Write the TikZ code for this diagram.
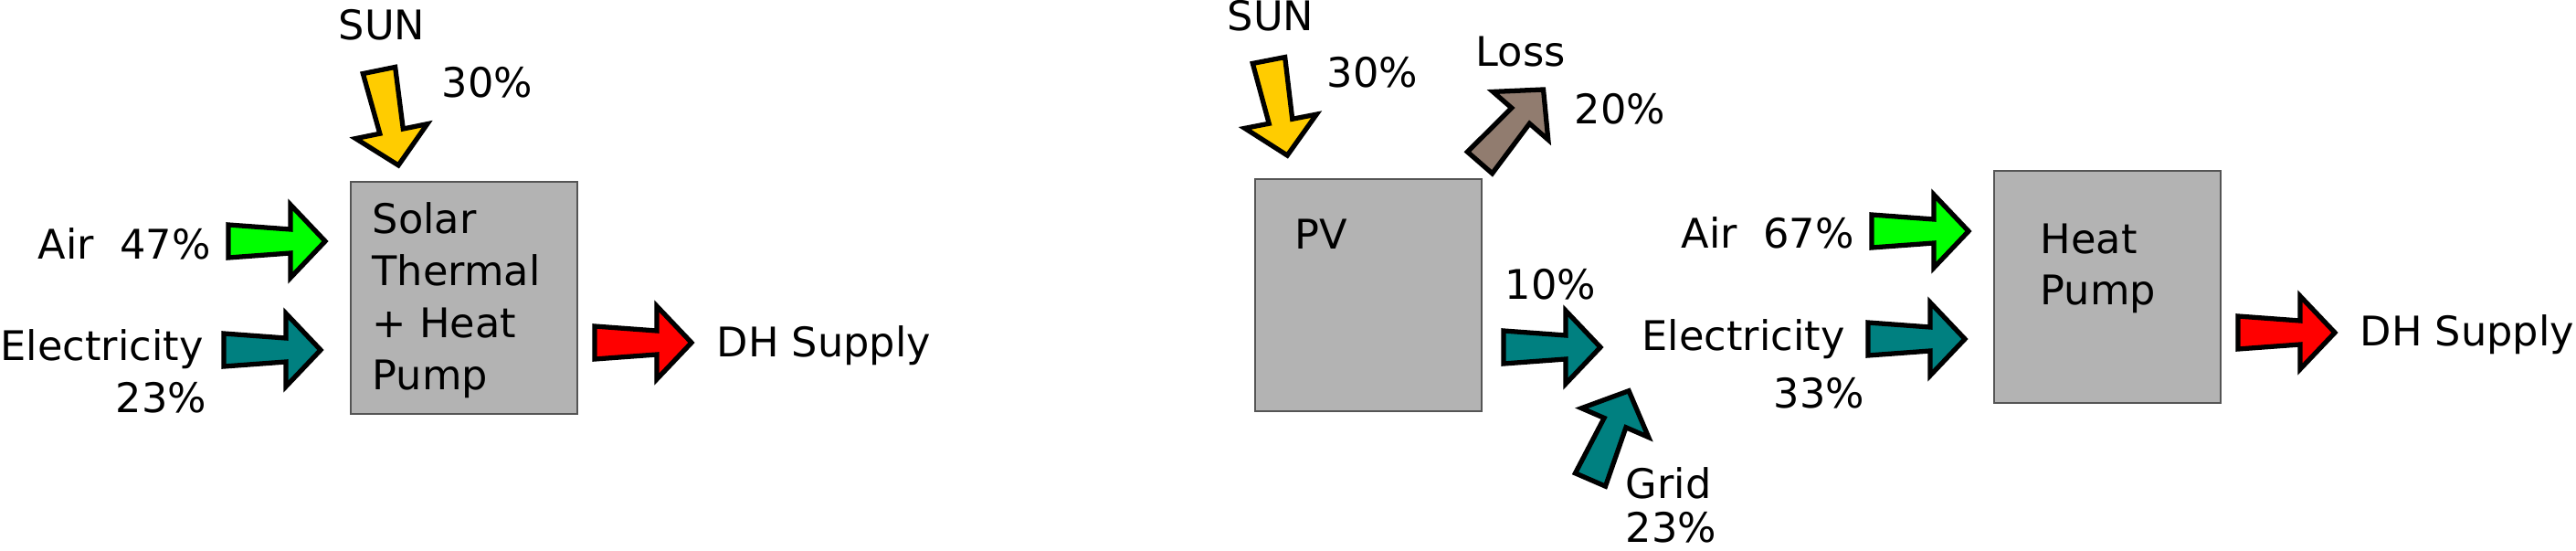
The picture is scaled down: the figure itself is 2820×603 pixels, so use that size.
\documentclass[tikz,border=0pt]{standalone}
\usepackage{fontspec}
\setmainfont{DejaVu Sans}
\usepackage{xcolor}
\usetikzlibrary{positioning}

\definecolor{sunyellow}{HTML}{FFCC00}
\definecolor{airgreen}{HTML}{00FF00}
\definecolor{elteal}{HTML}{008080}
\definecolor{dhred}{HTML}{FF0000}
\definecolor{lossbrown}{HTML}{917C6F}
\definecolor{boxgray}{HTML}{B3B3B3}
\definecolor{boxedge}{HTML}{555555}

\begin{document}
\begin{tikzpicture}
		[x=0.01cm,y=-0.01cm,
		every node/.style={font=\fontsize{12.7}{16}\selectfont,inner sep=0pt},
		txt/.style={anchor=base west},
		unit/.style={draw=boxedge,fill=boxgray,line width=0.6pt,minimum width=2.48cm,minimum height=2.53cm},
		fatarrow/.pic={\draw[pic actions,line width=1.5pt]
			(0,-18) -- (68,-13) -- (68,-40) -- (106,0) -- (68,40) -- (68,13) -- (0,18) -- cycle;}]
		\useasboundingbox (0,0) rectangle (2820,603);

		% solar thermal + heat pump
		\node[unit] (st) at (508,326) {};
		\foreach \t [count=\i] in {Solar,Thermal,+ Heat,Pump}
			\node[txt] (st\i) at (407,{198+57*\i}) {\t};
		\node[txt] (sun1) at (370,43) {SUN};
		\node[txt] (sunp1) at (483,106) {30\%};
		\node[txt] (air1) at (41,283) {Air\ \ 47\%};
		\node[txt] (el1) at (0,394) {Electricity};
		\node[txt] (elp1) at (126,451) {23\%};
		\node[txt] (dh1) at (784,390) {DH Supply};
		\pic[fill=sunyellow,rotate=-78.5] at (415,77) {fatarrow};
		\pic[fill=airgreen] at (250,264) {fatarrow};
		\pic[fill=elteal] at (245,383) {fatarrow};
		\pic[fill=dhred] at (651,375) {fatarrow};

		% PV + heat pump
		\node[unit] (pv) at (1498,323) {};
		\node[txt] (pvl) at (1417,272) {PV};
		\node[txt] (sun2) at (1343,34) {SUN};
		\node[txt] (sunp2) at (1452,95) {30\%};
		\node[txt] (loss) at (1615,73) {Loss};
		\node[txt] (lossp) at (1723,135) {20\%};
		\node[txt] (pvp) at (1647,327) {10\%};
		\node[txt] (el2) at (1797,383) {Electricity};
		\node[txt] (elp2) at (1941,446) {33\%};
		\node[txt] (air2) at (1840,271) {Air\ \ 67\%};
		\node[txt] (grid) at (1779,545) {Grid};
		\node[txt] (gridp) at (1779,593) {23\%};
		\node[unit] (hp) at (2307,314) {};
		\node[txt] (hp1) at (2233,277) {Heat};
		\node[txt] (hp2) at (2233,333) {Pump};
		\node[txt] (dh2) at (2583,378) {DH Supply};
		\pic[fill=sunyellow,rotate=-79] at (1389,66) {fatarrow};
		\pic[fill=lossbrown,rotate=49] at (1620,178) {fatarrow};
		\pic[fill=elteal] at (1646,380) {fatarrow};
		\pic[fill=elteal,rotate=66.6] at (1741,525) {fatarrow};
		\pic[fill=airgreen] at (2049,253) {fatarrow};
		\pic[fill=elteal] at (2045,371) {fatarrow};
		\pic[fill=dhred] at (2450,364) {fatarrow};
		\end{tikzpicture}
\end{document}
